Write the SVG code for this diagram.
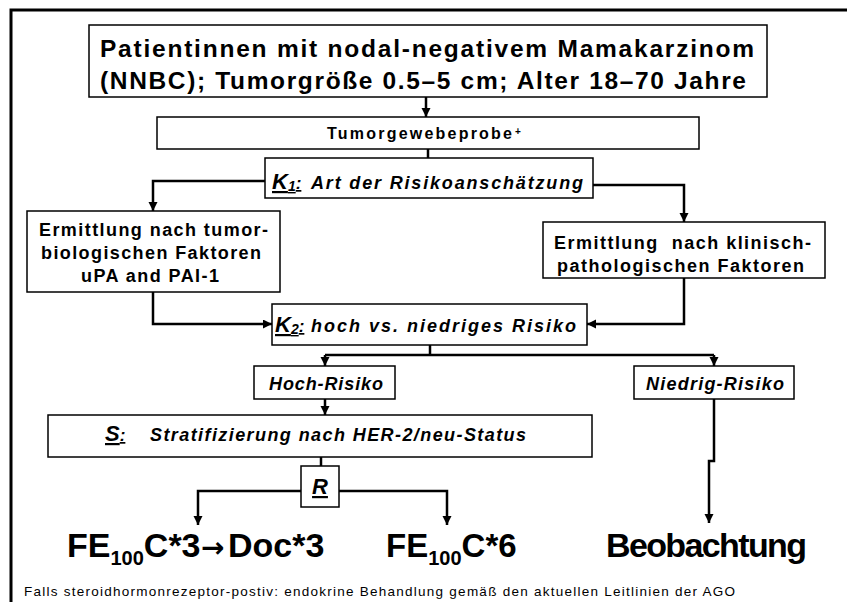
<svg xmlns="http://www.w3.org/2000/svg" width="847" height="602" viewBox="0 0 847 602">
<defs>
<marker id="ah" markerUnits="userSpaceOnUse" markerWidth="10" markerHeight="10" refX="9" refY="4.5" orient="auto">
<path d="M0,0 L9,4.5 L0,9 z" fill="#000"/>
</marker>
</defs>
<style>
.box{fill:#fff;stroke:#000;stroke-width:1.5}
.t{font-family:"Liberation Sans",Arial,sans-serif;font-weight:bold;fill:#000}
.i{font-style:italic}
.c{fill:none;stroke:#000;stroke-width:2.5}
.a{marker-end:url(#ah)}
.u{text-decoration:underline}
</style>
<rect width="847" height="602" fill="#fff"/>
<path d="M11,602 V10 H847" fill="none" stroke="#000" stroke-width="3"/>

<g id="connectors">
<path class="c a" d="M426,97 V117"/>
<path class="c" d="M428,149 V158"/>
<path class="c a" d="M265,181 H153 V211"/>
<path class="c a" d="M593,185 H684 V222"/>
<path class="c a" d="M153,292 V324 H272"/>
<path class="c a" d="M684,278 V324 H587"/>
<path class="c" d="M430,345 V355"/>
<path class="c" d="M325,355 H714"/>
<path class="c a" d="M325,355 V366"/>
<path class="c a" d="M714,355 V366"/>
<path class="c a" d="M325,399 V415"/>
<path class="c" d="M321,457 V466"/>
<path class="c a" d="M301,491 H198 V525"/>
<path class="c a" d="M339,491 H447 V525"/>
<path class="c a" d="M714,399 V461 H709 V523"/>
</g>

<g id="title">
<rect class="box" x="89" y="25" width="678" height="72"/>
<text class="t" x="100" y="57" font-size="24.5" textLength="654" lengthAdjust="spacing">Patientinnen mit nodal-negativem Mamakarzinom</text>
<text class="t" x="100" y="89" font-size="24.5" textLength="646" lengthAdjust="spacing">(NNBC); Tumorgröße 0.5–5 cm; Alter 18–70 Jahre</text>
</g>

<g id="tumorgewebeprobe">
<rect class="box" x="157" y="117" width="542" height="32"/>
<text class="t" x="327" y="139" font-size="16" textLength="185" lengthAdjust="spacing">Tumorgewebeprobe</text>
<text class="t" x="515" y="135" font-size="10">+</text>
</g>

<g id="k1">
<rect class="box" x="265" y="158" width="328" height="40"/>
<text class="t i" x="272" y="189" font-size="22"><tspan class="u">K</tspan><tspan class="u" font-size="14" dy="2">1</tspan><tspan class="u" font-size="17" dy="-2">:</tspan></text>
<text class="t i" x="311" y="189" font-size="18" textLength="272" lengthAdjust="spacing">Art der Risikoanschätzung</text>
</g>

<g id="tumorbiologisch">
<rect class="box" x="27" y="211" width="253" height="81"/>
<text class="t" x="39" y="236" font-size="18" textLength="229" lengthAdjust="spacing">Ermittlung nach tumor-</text>
<text class="t" x="41" y="259" font-size="18" textLength="220" lengthAdjust="spacing">biologischen Faktoren</text>
<text class="t" x="81" y="282" font-size="18" textLength="138" lengthAdjust="spacing">uPA and PAI-1</text>
</g>

<g id="klinisch">
<rect class="box" x="543" y="222" width="282" height="56"/>
<text class="t" x="554" y="249" font-size="18" textLength="257" lengthAdjust="spacing" xml:space="preserve">Ermittlung  nach klinisch-</text>
<text class="t" x="557" y="272" font-size="18" textLength="247" lengthAdjust="spacing">pathologischen Faktoren</text>
</g>

<g id="k2">
<rect class="box" x="272" y="304" width="315" height="41"/>
<text class="t i" x="275" y="332" font-size="22"><tspan class="u">K</tspan><tspan class="u" font-size="14" dy="2">2</tspan><tspan class="u" font-size="17" dy="-2">:</tspan></text>
<text class="t i" x="311" y="332" font-size="18" textLength="265" lengthAdjust="spacing">hoch vs. niedriges Risiko</text>
</g>

<g id="hoch">
<rect class="box" x="254" y="366" width="141" height="33"/>
<text class="t i" x="269" y="390" font-size="18" textLength="114" lengthAdjust="spacing">Hoch-Risiko</text>
</g>

<g id="niedrig">
<rect class="box" x="634" y="366" width="160" height="33"/>
<text class="t i" x="646" y="390" font-size="18" textLength="138" lengthAdjust="spacing">Niedrig-Risiko</text>
</g>

<g id="s">
<rect class="box" x="48" y="415" width="544" height="42"/>
<text class="t i" x="105" y="441" font-size="22"><tspan class="u">S</tspan><tspan class="u" font-size="17">:</tspan></text>
<text class="t i" x="150" y="441" font-size="18" textLength="376" lengthAdjust="spacing">Stratifizierung nach HER-2/neu-Status</text>
</g>

<g id="r">
<rect class="box" x="301" y="466" width="38" height="41"/>
<text class="t i u" x="320" y="494" font-size="22" text-anchor="middle">R</text>
</g>

<g id="arm1">
<text class="t" x="67" y="557" font-size="34">FE<tspan font-size="20" dy="8">100</tspan><tspan dy="-8">C*3</tspan><tspan x="201" font-family="DejaVu Sans, sans-serif" font-size="28">→</tspan><tspan x="228">Doc*3</tspan></text>
</g>
<g id="arm2">
<text class="t" x="386" y="557" font-size="33">FE<tspan font-size="20" dy="8">100</tspan><tspan dy="-8">C*6</tspan></text>
</g>
<g id="beobachtung">
<text class="t" x="606" y="557" font-size="34" textLength="201" lengthAdjust="spacing">Beobachtung</text>
</g>

<g id="footnote">
<text x="24" y="596" font-family="Liberation Sans, Arial, sans-serif" font-size="13.5" textLength="711" lengthAdjust="spacing">Falls steroidhormonrezeptor-postiv: endokrine Behandlung gemäß den aktuellen Leitlinien der AGO</text>
</g>
</svg>
